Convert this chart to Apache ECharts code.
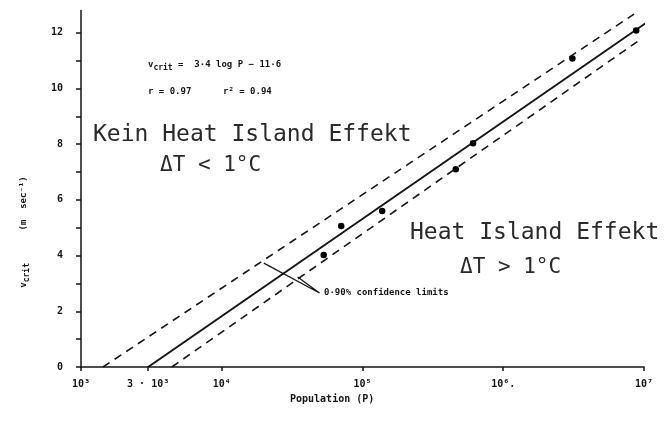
<!DOCTYPE html>
<html>
<head>
<meta charset="utf-8">
<script src="https://cdn.jsdelivr.net/npm/echarts@6/dist/echarts.min.js"></script>
<style>html,body{margin:0;padding:0;background:#fff}#c{width:671px;height:421px}</style>
</head>
<body>
<div id="c"></div>
<script>
// ---- data ----
const xTickValues = [1e3, 3e3, 1e4, 1e5, 1e6, 1e7];
const xTickLabels = ['10³', '3 · 10³', '10⁴', '10⁵', '10⁶.', '10⁷'];
const yTickValues = [0, 1, 2, 3, 4, 5, 6, 7, 8, 9, 10, 11, 12];
const yLabelValues = [0, 2, 4, 6, 8, 10, 12];

const cityPopulation = [5.3e4, 7.06e4, 1.38e5, 4.6e5, 6.1e5, 3.1e6, 8.8e6];
const cityVcrit = [4.02, 5.06, 5.60, 7.10, 8.03, 11.08, 12.08];

const fitP = [3000, 1.03e7];
const fitV = [0, 12.35];
const upperP = [1432, 8.5e6];
const upperV = [0, 12.67];
const lowerP = [4420, 9.55e6];
const lowerV = [0, 11.78];
const leaderP = [19900, 49500, 34600];
const leaderV = [3.73, 2.66, 3.23];

const pairs = (a, b) => a.map((v, i) => [v, b[i]]);
const INK = '#151515';
const MONO = '"DejaVu Sans Mono", "Liberation Mono", monospace';

const chart = echarts.init(document.getElementById('c'), null, {renderer: 'canvas'});
chart.setOption({
  animation: false,
  backgroundColor: '#fff',
  grid: {left: 81, right: 27, top: 10.5, bottom: 54, containLabel: false},
  xAxis: {
    type: 'log', logBase: 10, min: 1e3, max: 1e7,
    axisLine: {lineStyle: {color: INK, width: 1.5}},
    axisTick: {show: true, inside: false, length: 4, customValues: xTickValues, lineStyle: {color: INK, width: 1.5}},
    minorTick: {show: false},
    splitLine: {show: false},
    axisLabel: {
      customValues: xTickValues,
      margin: 12,
      color: INK, fontFamily: MONO, fontWeight: 'bold', fontSize: 10,
      formatter: v => {
        const i = xTickValues.findIndex(t => Math.abs(t - v) / t < 1e-6);
        return i >= 0 ? xTickLabels[i] : '';
      }
    }
  },
  yAxis: {
    type: 'value', min: 0, max: 12.8,
    axisLine: {show: true, lineStyle: {color: INK, width: 1.5}},
    axisTick: {show: true, length: 5, customValues: yTickValues, lineStyle: {color: INK, width: 1.5}},
    splitLine: {show: false},
    axisLabel: {
      customValues: yLabelValues,
      margin: 18,
      color: INK, fontFamily: MONO, fontWeight: 'bold', fontSize: 10
    }
  },
  series: [
    {
      name: 'fit', type: 'line', data: pairs(fitP, fitV), symbol: 'none',
      lineStyle: {color: INK, width: 2}, z: 3
    },
    {
      name: 'upper', type: 'line', data: pairs(upperP, upperV), symbol: 'none',
      lineStyle: {color: INK, width: 1.6, type: [8, 6]}
    },
    {
      name: 'lower', type: 'line', data: pairs(lowerP, lowerV), symbol: 'none',
      lineStyle: {color: INK, width: 1.6, type: [8, 6]}
    },
    {
      name: 'leader', type: 'line', data: pairs(leaderP, leaderV), symbol: 'none',
      lineStyle: {color: INK, width: 1.2}
    },
    {
      name: 'cities', type: 'scatter', data: pairs(cityPopulation, cityVcrit),
      symbol: 'circle', symbolSize: 6.5, itemStyle: {color: '#000', opacity: 1}, z: 4
    }
  ],
  graphic: [
    {type: 'text', left: 148, top: 58, style: {
      text: '{b|v}{sub|crit}{b| =  3·4 log P − 11·6}',
      rich: {
        b: {fontFamily: MONO, fontWeight: 'bold', fontSize: 9, fill: INK, lineHeight: 12},
        sub: {fontFamily: MONO, fontWeight: 'bold', fontSize: 8, fill: INK, lineHeight: 12, padding: [6, 0, 0, 0]}
      }
    }},
    {type: 'text', left: 148, top: 87, style: {text: 'r = 0.97', font: 'bold 9px ' + MONO, fill: INK}},
    {type: 'text', left: 223, top: 87, style: {text: 'r² = 0.94', font: 'bold 9px ' + MONO, fill: INK}},
    {type: 'text', left: 93, top: 124, style: {text: 'Kein Heat Island Effekt', font: '23px ' + MONO, fill: '#2a2a2a'}},
    {type: 'text', left: 160, top: 155, style: {text: 'ΔT < 1°C', font: '21px ' + MONO, fill: '#2a2a2a'}},
    {type: 'text', left: 410, top: 222, style: {text: 'Heat Island Effekt', font: '23px ' + MONO, fill: '#2a2a2a'}},
    {type: 'text', left: 460, top: 257, style: {text: 'ΔT > 1°C', font: '21px ' + MONO, fill: '#2a2a2a'}},
    {type: 'text', left: 324, top: 288, style: {text: '0·90% confidence limits', font: 'bold 9px ' + MONO, fill: INK}},
    {type: 'text', left: 290, top: 394, style: {text: 'Population (P)', font: 'bold 10px ' + MONO, fill: INK}},
    {type: 'text', x: 24, y: 232, rotation: Math.PI / 2, style: {
      text: '{b|v}{sub|crit}{b|      (m  sec⁻¹)}',
      align: 'center', verticalAlign: 'middle',
      rich: {
        b: {fontFamily: MONO, fontWeight: 'bold', fontSize: 9, fill: INK, lineHeight: 12},
        sub: {fontFamily: MONO, fontWeight: 'bold', fontSize: 8, fill: INK, lineHeight: 12, padding: [6, 0, 0, 0]}
      }
    }}
  ]
});
</script>
</body>
</html>
